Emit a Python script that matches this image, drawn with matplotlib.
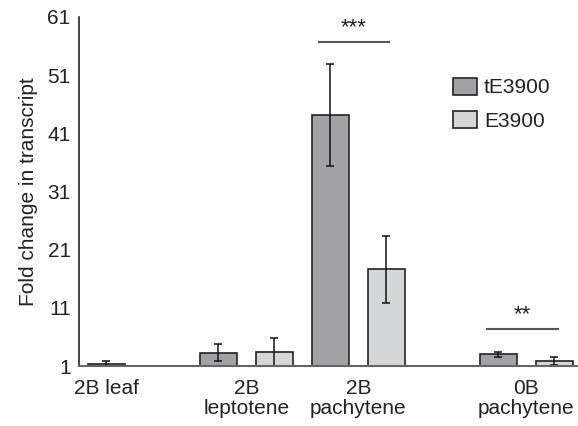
import matplotlib
matplotlib.use("Agg")
import matplotlib.pyplot as plt

plt.rcParams['font.family'] = ['Liberation Sans', 'DejaVu Sans']

categories = ["2B leaf", "2B\nleptotene", "2B\npachytene", "0B\npachytene"]
series_names = ["tE3900", "E3900"]
# values per bar (None = no bar)
tE_vals = [1.4, 3.3, 44.2, 3.0]
tE_err = [0.5, 1.45, 8.8, 0.4]
E_vals = [None, 3.35, 17.6, 1.9]
E_err = [None, 2.4, 5.8, 0.7]
yticks = [1, 11, 21, 31, 41, 51, 61]

# bar positions
tE_pos = [0, 2, 4, 7]
E_pos = [None, 3, 5, 8]
label_pos = [0, 2.5, 4.5, 7.5]

c_tE = "#a2a2a6"
c_E = "#d5d6d8"
edge = "#222222"
FS = 15

fig = plt.figure(figsize=(5.78, 4.26), dpi=100)
ax = fig.add_axes([79/578, 1-366/426, 1-79/578, (366-17)/426])

w = 0.66
ekw = dict(ecolor="#111111", elinewidth=1.1, capsize=3, capthick=1.1)
ax.bar(tE_pos, tE_vals, width=w, color=c_tE, edgecolor=edge, linewidth=1.2,
       yerr=tE_err, error_kw=ekw, label=series_names[0], zorder=2)
exs = [p for p, v in zip(E_pos, E_vals) if v is not None]
evs = [v for v in E_vals if v is not None]
ees = [e for e in E_err if e is not None]
ax.bar(exs, evs, width=w, color=c_E, edgecolor=edge, linewidth=1.2,
       yerr=ees, error_kw=ekw, label=series_names[1], zorder=2)

ax.set_xlim(-0.49, 8.42)
ax.set_ylim(1, 61)
ax.set_yticks(yticks)
ax.set_yticklabels([str(t) for t in yticks], fontsize=FS, color="#222222")
ax.set_xticks(label_pos)
ax.set_xticklabels(categories, fontsize=FS, color="#222222", va="top",
                   linespacing=1.1)
ax.tick_params(axis="both", length=0)
ax.tick_params(axis="y", pad=6)
ax.tick_params(axis="x", pad=9)

for s in ["top", "right"]:
    ax.spines[s].set_visible(False)
ax.spines["left"].set_color("#222222")
ax.spines["left"].set_linewidth(1.2)
ax.spines["bottom"].set_color("#666666")
ax.spines["bottom"].set_linewidth(1.5)

ax.set_ylabel("Fold change in transcript", fontsize=FS, color="#222222", labelpad=7)

# significance markers
ax.plot([3.79, 5.04], [56.7, 56.7], color="#555555", lw=1.5, clip_on=False)
ax.text(4.415, 57.3, "***", ha="center", va="bottom", fontsize=16, color="#222222")
ax.plot([6.79, 8.06], [7.4, 7.4], color="#555555", lw=1.5, clip_on=False)
ax.text(7.425, 8.0, "**", ha="center", va="bottom", fontsize=16, color="#222222")

leg = ax.legend(loc="upper left", bbox_to_anchor=(0.7495, 0.826), frameon=False,
                fontsize=FS, handlelength=1.15, handleheight=0.87, borderpad=0,
                borderaxespad=0, labelspacing=0.65, handletextpad=0.34)
for t in leg.get_texts():
    t.set_color("#222222")

fig.savefig("out.png", dpi=100)
